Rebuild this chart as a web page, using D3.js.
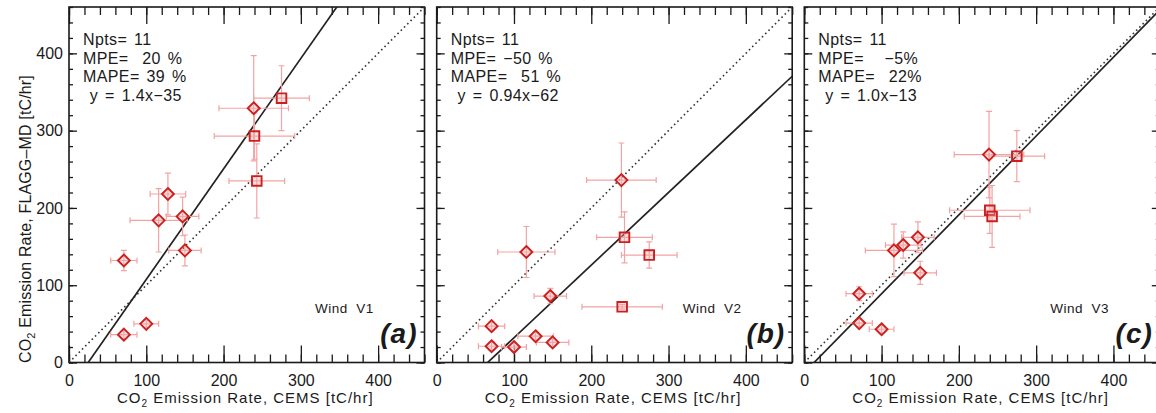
<html lang="en">
  <head>
    <meta charset="UTF-8" />
    <title>CO2 emission rates</title>
    <script src="https://d3js.org/d3.v7.min.js"></script>
    <style>
      * {
        margin: 0;
        padding: 0;
      }
      body {
        background: #fff;
      }
      text {
        font-family: "Liberation Sans", Arial, sans-serif;
        fill: #1a1a1a;
      }
    </style>
  </head>
  <body>
    <div id="svgContainer"></div>
    <script>
      // CEMS emission rate (shared x for the three panels) and its error
      const cems = [71, 71, 100, 116, 128, 147, 150, 239, 240, 243, 275];
      const cemsErr = [17, 17, 16, 37, 23, 21, 21, 45, 52, 36, 36];
      const shapes = ["d", "d", "d", "d", "d", "d", "d", "d", "s", "s", "s"];

      // FLAGG-MD emission rates for each wind product
      const flaggV1 = [132, 36, 50, 184, 218, 189, 145, 329, 293, 235, 342];
      const flaggV1Err = [13, 5, 5, 41, 27, 25, 20, 68, 30, 48, 42];
      const flaggV2 = [47, 21, 20, 143, 34, 86, 26, 236, 72, 162, 139];
      const flaggV2Err = [5, 5, 5, 33, 5, 10, 5, 48, 3, 33, 17];
      const flaggV3 = [89, 51, 43, 145, 152, 162, 116, 269, 197, 189, 267];
      const flaggV3Err = [9, 5, 5, 34, 17, 20, 15, 56, 30, 40, 33];

      const windNames = ["Wind V1", "Wind V2", "Wind V3"];
      const panelTags = ["(a)", "(b)", "(c)"];
      const fitSlope = [1.43, 0.94, 1.02];
      const fitIntercept = [-35.5, -62, -13];
      const statLines = [
        ["Npts= 11", "MPE=  20 %", "MAPE= 39 %", " y = 1.4x\u221235"],
        ["Npts= 11", "MPE= \u221250 %", "MAPE=  51 %", " y = 0.94x\u221262"],
        ["Npts= 11", "MPE=   \u22125%", "MAPE=  22%", " y = 1.0x\u221213"],
      ];
      const majorTicks = [0, 100, 200, 300, 400];

      const width = 1156;
      const height = 413;
      const PANEL = { top: 7, size: 355.5, lefts: [69, 436.7, 804.3] };
      const MAXV = 460;

      let svg = d3
        .select("#svgContainer")
        .append("svg")
        .attr("width", width)
        .attr("height", height);

      svg.append("rect").attr("width", width).attr("height", height).attr("fill", "#fff");

      const panels = [
        { y: flaggV1, yErr: flaggV1Err },
        { y: flaggV2, yErr: flaggV2Err },
        { y: flaggV3, yErr: flaggV3Err },
      ];

      const minorTicks = d3.range(0, MAXV + 1, 20);

      panels.forEach((p, k) => {
        let g = svg
          .append("g")
          .attr("transform", `translate(${PANEL.lefts[k]}, ${PANEL.top})`);

        let x = d3.scaleLinear().domain([0, MAXV]).range([0, PANEL.size]);
        let y = d3.scaleLinear().domain([0, MAXV]).range([PANEL.size, 0]);

        g.append("clipPath")
          .attr("id", "clip" + k)
          .append("rect")
          .attr("width", PANEL.size)
          .attr("height", PANEL.size);

        // axes: minor + major ticks pointing inward on all four sides
        const addAxis = (axis, tr) => {
          let a = g.append("g").attr("transform", tr).call(axis);
          a.select(".domain").remove();
          a.selectAll("line").attr("stroke", "#1a1a1a").attr("stroke-width", 1.3);
          return a;
        };
        const S = `translate(0,${PANEL.size})`;
        const R = `translate(${PANEL.size},0)`;
        addAxis(d3.axisBottom(x).tickValues(minorTicks).tickSize(-8).tickFormat(""), S);
        addAxis(d3.axisTop(x).tickValues(minorTicks).tickSize(-8).tickFormat(""), "");
        addAxis(d3.axisLeft(y).tickValues(minorTicks).tickSize(-4).tickFormat(""), "");
        addAxis(d3.axisRight(y).tickValues(minorTicks).tickSize(-4).tickFormat(""), R);
        let bx = addAxis(
          d3.axisBottom(x).tickValues(majorTicks).tickSizeInner(-17).tickSizeOuter(0).tickPadding(12),
          S
        );
        bx.selectAll("text").style("font-size", "16px").attr("fill", "#1a1a1a");
        addAxis(d3.axisTop(x).tickValues(majorTicks).tickSize(-17).tickFormat(""), "");
        let ly = addAxis(
          d3.axisLeft(y).tickValues(majorTicks).tickSizeInner(-8).tickSizeOuter(0).tickPadding(6)
            .tickFormat(k === 0 ? d3.format("d") : ""),
          ""
        );
        ly.selectAll("text").style("font-size", "16px").attr("fill", "#1a1a1a");
        addAxis(d3.axisRight(y).tickValues(majorTicks).tickSize(-8).tickFormat(""), R);

        g.append("rect")
          .attr("width", PANEL.size)
          .attr("height", PANEL.size)
          .attr("fill", "none")
          .attr("stroke", "#1a1a1a")
          .attr("stroke-width", 1.6);

        let inner = g.append("g").attr("clip-path", `url(#clip${k})`);

        // 1:1 line
        inner
          .append("line")
          .attr("x1", x(0))
          .attr("y1", y(0))
          .attr("x2", x(MAXV))
          .attr("y2", y(MAXV))
          .attr("stroke", "#333")
          .attr("stroke-width", 1.6)
          .attr("stroke-dasharray", "1.6,3");

        // linear fit
        inner
          .append("line")
          .attr("x1", x(0))
          .attr("y1", y(fitIntercept[k]))
          .attr("x2", x(MAXV))
          .attr("y2", y(fitSlope[k] * MAXV + fitIntercept[k]))
          .attr("stroke", "#222")
          .attr("stroke-width", 1.7);

        // error bars
        const errCol = "#f2a3a3";
        let pts = cems.map((c, i) => ({ cx: c, ex: cemsErr[i], cy: p.y[i], ey: p.yErr[i], s: shapes[i] }));
        let eb = inner.append("g").attr("stroke", errCol).attr("stroke-width", 1.2);
        pts.forEach((d) => {
          eb.append("line").attr("x1", x(d.cx - d.ex)).attr("x2", x(d.cx + d.ex)).attr("y1", y(d.cy)).attr("y2", y(d.cy));
          eb.append("line").attr("x1", x(d.cx)).attr("x2", x(d.cx)).attr("y1", y(d.cy - d.ey)).attr("y2", y(d.cy + d.ey));
          [d.cx - d.ex, d.cx + d.ex].forEach((v) =>
            eb.append("line").attr("x1", x(v)).attr("x2", x(v)).attr("y1", y(d.cy) - 3).attr("y2", y(d.cy) + 3)
          );
          [d.cy - d.ey, d.cy + d.ey].forEach((v) =>
            eb.append("line").attr("x1", x(d.cx) - 3).attr("x2", x(d.cx) + 3).attr("y1", y(v)).attr("y2", y(v))
          );
        });

        // markers
        inner
          .selectAll("path.mark")
          .data(pts)
          .join("path")
          .attr("class", "mark")
          .attr("transform", (d) => `translate(${x(d.cx)},${y(d.cy)})`)
          .attr("d", (d) => (d.s === "d" ? "M0,-6L6,0L0,6L-6,0Z" : "M-4.8,-4.8H4.8V4.8H-4.8Z"))
          .attr("fill", "rgba(240,170,170,0.35)")
          .attr("stroke", "#cc2020")
          .attr("stroke-width", 1.9);

        // stats text
        g.selectAll("text.stat")
          .data(statLines[k])
          .join("text")
          .attr("class", "stat")
          .attr("x", 14)
          .attr("y", (d, i) => 38 + i * 18.5)
          .style("font-size", "16px")
          .style("letter-spacing", "0.4px")
          .style("word-spacing", "2px")
          .style("white-space", "pre")
          .text((d) => d);

        g.append("text")
          .attr("x", 246)
          .attr("y", 306)
          .style("font-size", "13.5px")
          .style("letter-spacing", "0.5px")
          .style("white-space", "pre")
          .text(windNames[k].replace(" ", "  "));

        g.append("text")
          .attr("x", PANEL.size - 7)
          .attr("y", 336)
          .attr("text-anchor", "end")
          .style("font-size", "28px")
          .style("letter-spacing", "1px")
          .style("font-weight", "bold")
          .style("font-style", "italic")
          .text(panelTags[k]);

        // x title
        let xt = g
          .append("text")
          .attr("x", 48)
          .attr("y", PANEL.size + 40)
          .style("font-size", "15px")
          .style("letter-spacing", "1px");
        xt.append("tspan").text("CO");
        xt.append("tspan").attr("dy", 4).style("font-size", "10px").text("2");
        xt.append("tspan").attr("dy", -4).text(" Emission Rate, CEMS [tC/hr]");

        if (k === 0) {
          let yt = g
            .append("text")
            .attr("transform", `translate(-38,356) rotate(-90)`)
            .style("font-size", "16px")
            .style("letter-spacing", "0.15px");
          yt.append("tspan").text("CO");
          yt.append("tspan").attr("dy", 4).style("font-size", "11px").text("2");
          yt.append("tspan").attr("dy", -4).text(" Emission Rate, FLAGG\u2013MD [tC/hr]");
        }
      });
    </script>
  </body>
</html>
